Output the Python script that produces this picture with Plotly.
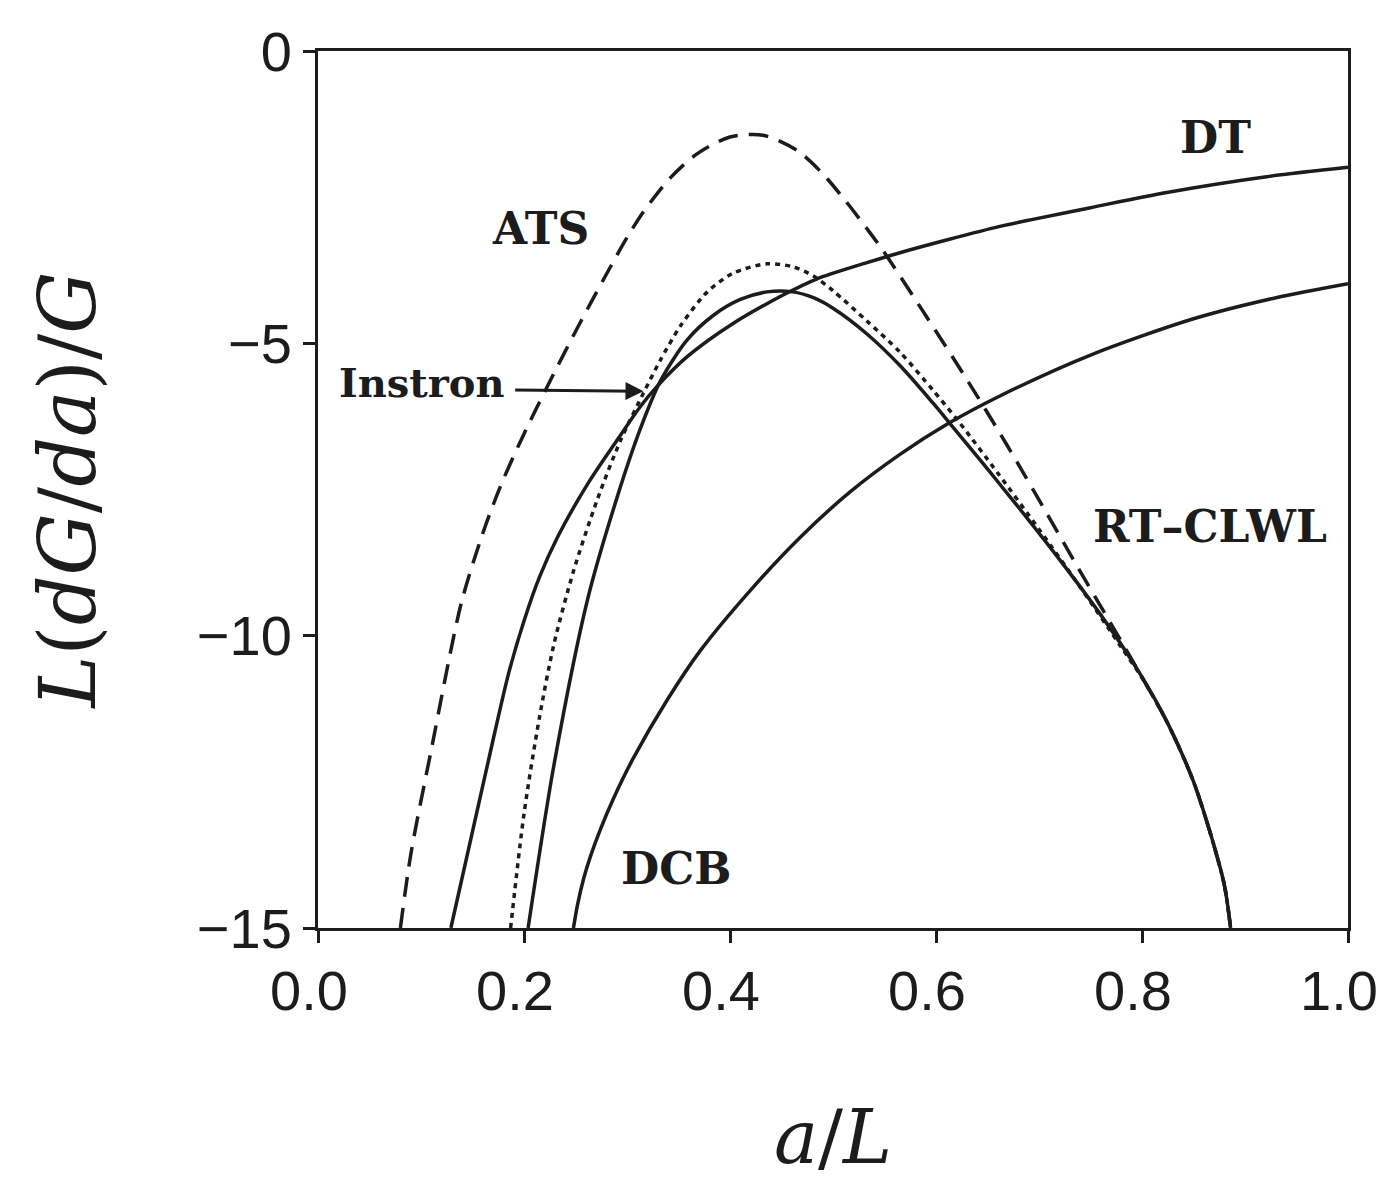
import plotly.graph_objects as go

# ---- data (a/L , L(dG/da)/G) ----
ats_x = [0.080, 0.090, 0.110, 0.139, 0.160, 0.177, 0.197, 0.226, 0.255, 0.284, 0.300, 0.316, 0.342, 0.368,
         0.400, 0.432, 0.465, 0.489, 0.512, 0.533, 0.548, 0.591, 0.630, 0.658, 0.679, 0.706, 0.736, 0.764,
         0.784, 0.797, 0.825, 0.849, 0.865, 0.880, 0.886]
ats_y = [-15.0, -13.75, -11.95, -9.45, -8.25, -7.45, -6.66, -5.62, -4.63, -3.69, -3.19, -2.75, -2.17, -1.76,
         -1.47, -1.44, -1.70, -2.08, -2.56, -3.04, -3.40, -4.55, -5.62, -6.42, -7.04, -7.86, -8.78, -9.62,
         -10.22, -10.62, -11.50, -12.45, -13.30, -14.27, -15.0]

inst_x = [0.187, 0.200, 0.215, 0.229, 0.248, 0.271, 0.294, 0.316, 0.332, 0.352, 0.378, 0.403, 0.436, 0.461,
          0.481, 0.500, 0.533, 0.565, 0.597, 0.623, 0.660, 0.700, 0.740, 0.780, 0.800, 0.825, 0.849, 0.865,
          0.880, 0.886]
inst_y = [-15.0, -13.05, -11.40, -10.15, -8.90, -7.68, -6.65, -5.85, -5.30, -4.70, -4.12, -3.80, -3.64, -3.69,
          -3.85, -4.10, -4.62, -5.15, -5.80, -6.36, -7.22, -8.18, -9.17, -10.20, -10.72, -11.50, -12.45, -13.30,
          -14.27, -15.0]

rt_x = [0.204, 0.229, 0.262, 0.291, 0.313, 0.332, 0.358, 0.384, 0.410, 0.436, 0.461, 0.481, 0.500, 0.533,
        0.565, 0.597, 0.614, 0.644, 0.662, 0.679, 0.720, 0.761, 0.797, 0.825, 0.849, 0.865, 0.880, 0.886]
rt_y = [-15.0, -12.22, -9.36, -7.60, -6.46, -5.66, -4.95, -4.52, -4.25, -4.12, -4.12, -4.22, -4.40, -4.84,
        -5.38, -6.02, -6.38, -7.02, -7.41, -7.78, -8.70, -9.67, -10.62, -11.50, -12.45, -13.30, -14.27, -15.0]

dt_x = [0.129, 0.163, 0.185, 0.200, 0.215, 0.233, 0.262, 0.291, 0.313, 0.329, 0.359, 0.403, 0.452, 0.484,
        0.533, 0.565, 0.613, 0.662, 0.694, 0.750, 0.824, 0.921, 1.000]
dt_y = [-15.0, -12.33, -10.65, -9.75, -9.00, -8.30, -7.40, -6.64, -6.08, -5.74, -5.22, -4.66, -4.17, -3.90,
        -3.62, -3.45, -3.22, -3.00, -2.88, -2.68, -2.42, -2.15, -1.99]

dcb_x = [0.248, 0.252, 0.258, 0.265, 0.274, 0.287, 0.306, 0.339, 0.371, 0.420, 0.468, 0.516, 0.565, 0.613,
         0.662, 0.750, 0.850, 0.930, 1.000]
dcb_y = [-15.0, -14.60, -14.15, -13.75, -13.32, -12.78, -12.10, -11.10, -10.26, -9.22, -8.32, -7.55, -6.90, -6.36,
         -5.90, -5.20, -4.58, -4.22, -3.98]

x_ticks = [0.0, 0.2, 0.4, 0.6, 0.8, 1.0]
y_ticks = [0, -5, -10, -15]

labels = ["DT", "ATS", "Instron", "RT–CLWL", "DCB"]
label_x = [0.871, 0.216, 0.101, 0.866, 0.348]
label_y = [-1.48, -3.03, -5.67, -8.13, -13.98]
label_size = [44, 44, 40, 44, 44]

fig = go.Figure()
ink = "#1c1c1c"
fig.add_trace(go.Scatter(x=ats_x, y=ats_y, mode="lines", line=dict(color=ink, width=3.5, dash="20px,11px", shape="spline", smoothing=0.8)))
fig.add_trace(go.Scatter(x=inst_x, y=inst_y, mode="lines", line=dict(color=ink, width=3.5, dash="5px,5px", shape="spline", smoothing=0.8)))
fig.add_trace(go.Scatter(x=rt_x, y=rt_y, mode="lines", line=dict(color=ink, width=3.5, shape="spline", smoothing=0.8)))
fig.add_trace(go.Scatter(x=dt_x, y=dt_y, mode="lines", line=dict(color=ink, width=3.5, shape="spline", smoothing=0.8)))
fig.add_trace(go.Scatter(x=dcb_x, y=dcb_y, mode="lines", line=dict(color=ink, width=3.5, shape="spline", smoothing=0.8)))

for t, lx, ly, fs in zip(labels, label_x, label_y, label_size):
    fig.add_annotation(x=lx, y=ly, text="<b>%s</b>" % t, showarrow=False,
                       font=dict(family="DejaVu Serif", size=fs, color=ink))

# arrow from "Instron" label to its curve
fig.add_annotation(x=0.316, y=-5.82, ax=0.19, ay=-5.80, axref="x", ayref="y", xref="x", yref="y",
                   text="", showarrow=True, arrowhead=2, arrowsize=1.2, arrowwidth=3, arrowcolor=ink)

fig.update_xaxes(range=[0, 1], tickvals=x_ticks, tickformat=".1f", showline=True, linecolor=ink, linewidth=3,
                 mirror=True, ticks="outside", ticklen=12, tickwidth=3, tickcolor=ink, showgrid=False, zeroline=False,
                 ticklabelshift=-9,
                 tickfont=dict(family="Liberation Sans", size=56, color=ink),
                 title=dict(text="<i>a</i>/<i>L</i>", font=dict(family="DejaVu Serif", size=74, color=ink), standoff=90))
fig.update_yaxes(range=[-15, 0], tickvals=y_ticks, showline=True, linecolor=ink, linewidth=3,
                 mirror=True, ticks="outside", ticklen=12, tickwidth=3, tickcolor=ink, showgrid=False, zeroline=False,
                 tickfont=dict(family="Liberation Sans", size=56, color=ink),
                 title=dict(text="<i>L</i>(<i>dG</i>/<i>da</i>)/<i>G</i>", font=dict(family="DejaVu Serif", size=78, color=ink), standoff=76))

fig.update_layout(width=1400, height=1184, showlegend=False, plot_bgcolor="white", paper_bgcolor="white",
                  margin=dict(l=310, r=60, t=40, b=264))

fig.write_html("out.html")
